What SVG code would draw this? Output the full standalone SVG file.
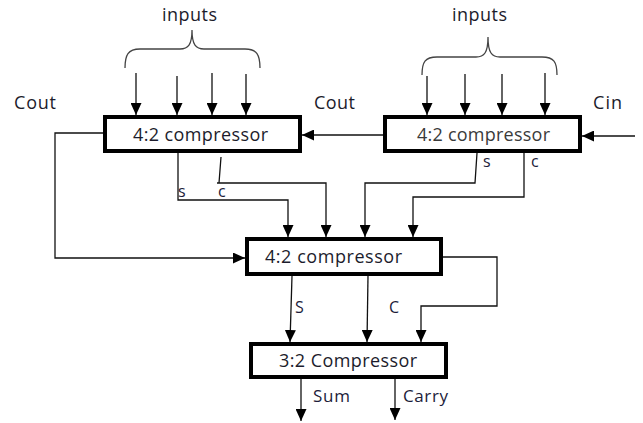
<svg xmlns="http://www.w3.org/2000/svg" width="643" height="423" viewBox="0 0 643 423">
<style>
.box{fill:#fff;stroke:#000;stroke-width:4}
.t{font-family:"Open Sans","Liberation Sans",sans-serif;font-size:18px;fill:#1c1c2c}
.l{font-family:"Open Sans","Liberation Sans",sans-serif;font-size:16px;fill:#1c1c3a}
.a{fill:none;stroke:#111;stroke-width:1.3;marker-end:url(#ah)}
.br{fill:none;stroke:#444;stroke-width:1.3}
</style>
<defs>
<marker id="ah" markerUnits="userSpaceOnUse" markerWidth="12" markerHeight="11" refX="12" refY="5.5" orient="auto">
<path d="M0,0 L12,5.5 L0,11 z" fill="#000"/>
</marker>
</defs>
<rect width="643" height="423" fill="#fff"/>
<g id="connectors">
<path class="br" d="M125,68 C125,55 128,49 140,49 L180,49 C188,49 192,45 192,30 C192,45 196,49 204,49 L245,49 C257,49 260,55 260,68"/>
<path class="br" d="M422,75 C422,62 425,57 437,57 L476,57 C484,57 488,53 488,37 C488,53 492,57 500,57 L542,57 C554,57 557,62 557,75"/>
<path class="a" d="M136,73 L136,115"/>
<path class="a" d="M177,76 L177,115"/>
<path class="a" d="M212,73 L212,115"/>
<path class="a" d="M246,74 L246,115"/>
<path class="a" d="M427,76 L427,115"/>
<path class="a" d="M465,74 L465,115"/>
<path class="a" d="M502,74 L502,115"/>
<path class="a" d="M545,73 L545,115"/>
<path class="a" d="M635,136 L582,136"/>
<path class="a" d="M383,135 L302,135"/>
<path class="a" d="M103,133 L55,133 L55,258 L245,258"/>
<path class="a" d="M178,153 L178,200 L288,200 L288,237"/>
<path class="a" d="M221,157 L219,183 M217,183 L326,183 L326,237"/>
<path class="a" d="M477,153 L475,183 L365,183 L365,237"/>
<path class="a" d="M524,153 L524,197 L413,197 L413,237"/>
<path class="a" d="M292,276 L290,342"/>
<path class="a" d="M368,276 L367,342"/>
<path class="a" d="M443,257 L497,257 L497,306 L421,306 L421,342"/>
<path class="a" d="M301,379 L301,421"/>
<path class="a" d="M395,377 L395,420"/>
</g>
<g id="labels">
<text class="t" x="162" y="21" textLength="55">inputs</text>
<text class="t" x="452" y="21" textLength="55">inputs</text>
<text class="t" x="14" y="109" textLength="42">Cout</text>
<text class="t" x="314" y="109" textLength="41">Cout</text>
<text class="t" x="593" y="109" textLength="29">Cin</text>
<text class="l" x="178" y="197">s</text>
<text class="l" x="218" y="197">c</text>
<text class="l" x="483" y="167">s</text>
<text class="l" x="531" y="167">c</text>
<text class="l" x="295" y="313">S</text>
<text class="l" x="389" y="313">C</text>
<text class="l" x="313" y="402" textLength="37" style="font-size:17px">Sum</text>
<text class="l" x="403" y="402" textLength="45" style="font-size:17px">Carry</text>
</g>
<g id="compressor-top-left">
<rect class="box" x="105" y="117" width="195" height="34"/>
<text class="t" x="133" y="141" textLength="135">4:2 compressor</text>
</g>
<g id="compressor-top-right">
<rect class="box" x="385" y="117" width="195" height="34"/>
<text class="t" x="417" y="141" textLength="133" style="fill:#3a3a3a">4:2 compressor</text>
</g>
<g id="compressor-middle">
<rect class="box" x="247" y="239" width="194" height="35"/>
<text class="t" x="265" y="263" textLength="137">4:2 compressor</text>
</g>
<g id="compressor-bottom">
<rect class="box" x="251" y="344" width="195" height="33"/>
<text class="t" x="279" y="367" textLength="138">3:2 Compressor</text>
</g>
</svg>
